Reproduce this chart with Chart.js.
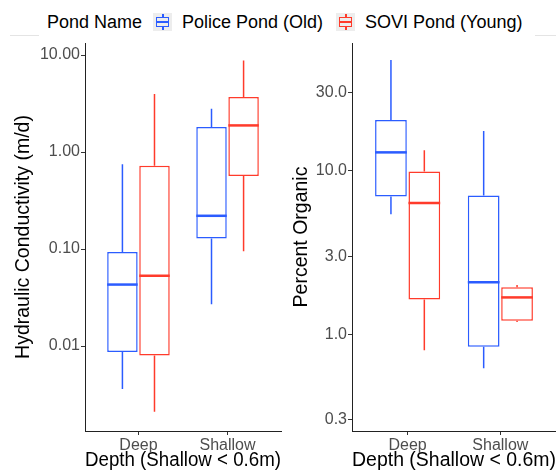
<!DOCTYPE html>
<html>
<head>
<meta charset="utf-8">
<script src="https://cdn.jsdelivr.net/npm/chart.js@4.4.1/dist/chart.umd.min.js"></script>
<style>
    body { margin: 0; background: #fff; }
    #wrap { position: relative; width: 556px; height: 472px; overflow: hidden; font-family: 'Liberation Sans', Arial, sans-serif; }
    canvas { position: absolute; top: 0; }
    .rule { position: absolute; top: 35px; height: 1px; background: #e4e4e4; }
    .lbl { position: absolute; top: 13px; font-size: 18px; line-height: 18px; color: #000; white-space: nowrap; }
    .key { position: absolute; top: 13px; width: 19px; height: 18px; background: #ededed; }
    .key .wh { position: absolute; left: 9px; top: 1px; width: 1.5px; height: 16px; }
    .key .bx { position: absolute; left: 3px; top: 4px; width: 13px; height: 10px; box-sizing: border-box; border: 1.5px solid; background: #ededed; }
    .key .md { position: absolute; left: 3px; top: 8px; width: 13px; height: 2px; }
</style>
</head>
<body>
<div id="wrap">
    <div class="rule" style="left:10px;width:29px"></div>
    <div class="rule" style="left:535px;width:21px"></div>
    <div class="lbl" style="left:47px">Pond Name</div>
    <div class="key" style="left:153px">
        <div class="wh" style="background:#2b5cff"></div>
        <div class="bx" style="border-color:#2b5cff"></div>
        <div class="md" style="background:#2b5cff"></div>
    </div>
    <div class="lbl" style="left:182px">Police Pond (Old)</div>
    <div class="key" style="left:336px">
        <div class="wh" style="background:#ff3b2b"></div>
        <div class="bx" style="border-color:#ff3b2b"></div>
        <div class="md" style="background:#ff3b2b"></div>
    </div>
    <div class="lbl" style="left:365px">SOVI Pond (Young)</div>
    <canvas id="hkChart" width="290" height="472" style="left:0"></canvas>
    <canvas id="orgChart" width="274" height="472" style="left:282px"></canvas>
</div>
<script>
// categories / positions on the x axis
const depths = ['Deep', 'Shallow'];
const depthPos = [1, 2];
const ponds = ['Police Pond (Old)', 'SOVI Pond (Young)'];
const pondColors = ['#2b5cff', '#ff3b2b'];

// hydraulic conductivity (m/d) : min, q1, median, q3, max
const hkPoliceMin = [0.0036, 0.027];
const hkPoliceQ1 = [0.0087, 0.128];
const hkPoliceMed = [0.043, 0.22];
const hkPoliceQ3 = [0.093, 1.81];
const hkPoliceMax = [0.75, 2.8];
const hkSoviMin = [0.0021, 0.095];
const hkSoviQ1 = [0.008, 0.566];
const hkSoviMed = [0.053, 1.88];
const hkSoviQ3 = [0.72, 3.69];
const hkSoviMax = [3.96, 8.8];

// percent organic
const orgPoliceMin = [5.4, 0.62];
const orgPoliceQ1 = [6.93, 0.84];
const orgPoliceMed = [12.9, 2.08];
const orgPoliceQ3 = [20.3, 7.03];
const orgPoliceMax = [47.3, 17.4];
const orgSoviMin = [0.80, 1.19];
const orgSoviQ1 = [1.63, 1.21];
const orgSoviMed = [6.34, 1.68];
const orgSoviQ3 = [9.86, 1.94];
const orgSoviMax = [13.3, 2.0];

// tick labels
const hkTicks = [0.01, 0.1, 1, 10];
const hkTickLabels = ['0.01', '0.10', '1.00', '10.00'];
const orgTicks = [0.3, 1, 3, 10, 30];
const orgTickLabels = ['0.3', '1.0', '3.0', '10.0', '30.0'];

Chart.defaults.font.family = "'Liberation Sans', Arial, sans-serif";

// whiskers and medians drawn on top of the floating bars
const boxExtras = {
    id: 'boxExtras',
    afterDatasetsDraw(chart) {
        const ctx = chart.ctx;
        const y = chart.scales.y;
        chart.data.datasets.forEach((ds, d) => {
            const meta = chart.getDatasetMeta(d);
            meta.data.forEach((bar, i) => {
                const half = bar.width / 2;
                ctx.save();
                ctx.strokeStyle = ds.borderColor;
                ctx.lineWidth = 1.5;
                ctx.beginPath();
                ctx.moveTo(bar.x, y.getPixelForValue(ds.q3[i]));
                ctx.lineTo(bar.x, y.getPixelForValue(ds.hi[i]));
                ctx.moveTo(bar.x, y.getPixelForValue(ds.q1[i]));
                ctx.lineTo(bar.x, y.getPixelForValue(ds.lo[i]));
                ctx.stroke();
                ctx.lineWidth = 2.5;
                ctx.beginPath();
                const ym = y.getPixelForValue(ds.med[i]);
                ctx.moveTo(bar.x - half, ym);
                ctx.lineTo(bar.x + half, ym);
                ctx.stroke();
                ctx.restore();
            });
        });
    }
};

function makeSet(label, color, lo, q1, med, q3, hi) {
    return {
        label: label,
        data: depthPos.map((x, i) => ({x: x, y: [q1[i], q3[i]]})),
        backgroundColor: '#ffffff',
        borderColor: color,
        borderWidth: 1.5,
        borderSkipped: false,
        categoryPercentage: 0.72,
        barPercentage: 0.95,
        lo: lo, q1: q1, med: med, q3: q3, hi: hi
    };
}

function makeBoxChart(id, sets, yMin, yMax, ticks, tickLabels, yTitle, yWidth, yTitlePad, padRight) {
    const ctx = document.getElementById(id).getContext('2d');
    return new Chart(ctx, {
        type: 'bar',
        data: { datasets: sets },
        options: {
            responsive: false,
            animation: false,
            devicePixelRatio: 1,
            layout: { padding: { top: 43, right: padRight, bottom: 0, left: 0 } },
            plugins: { legend: { display: false }, tooltip: { enabled: false } },
            scales: {
                x: {
                    type: 'linear',
                    min: 0.4,
                    max: 2.6,
                    offset: false,
                    afterBuildTicks: (s) => { s.ticks = depthPos.map(v => ({value: v})); },
                    afterFit: (s) => { s.height = 41; },
                    grid: { offset: false, drawOnChartArea: false, drawTicks: true, tickLength: 4, color: '#333333' },
                    border: { display: true, color: '#222222', width: 1 },
                    ticks: {
                        color: '#4d4d4d',
                        font: { size: 16 },
                        padding: 1,
                        maxRotation: 0,
                        callback: (v) => depths[depthPos.indexOf(v)]
                    },
                    title: {
                        display: true,
                        text: 'Depth (Shallow < 0.6m)',
                        color: '#000',
                        font: { size: 19.5 },
                        padding: { top: 0, bottom: 0 }
                    }
                },
                y: {
                    type: 'logarithmic',
                    min: yMin,
                    max: yMax,
                    afterBuildTicks: (s) => { s.ticks = ticks.map(v => ({value: v})); },
                    afterFit: (s) => { s.width = yWidth; },
                    grid: { drawOnChartArea: false, drawTicks: true, tickLength: 4, color: '#333333' },
                    border: { display: true, color: '#222222', width: 1 },
                    ticks: {
                        color: '#4d4d4d',
                        font: { size: 16 },
                        padding: 1,
                        callback: (v) => tickLabels[ticks.indexOf(v)]
                    },
                    title: {
                        display: true,
                        text: yTitle,
                        color: '#000',
                        font: { size: 19.5 },
                        padding: { top: yTitlePad, bottom: 0 }
                    }
                }
            }
        },
        plugins: [boxExtras]
    });
}

makeBoxChart('hkChart', [
    makeSet(ponds[0], pondColors[0], hkPoliceMin, hkPoliceQ1, hkPoliceMed, hkPoliceQ3, hkPoliceMax),
    makeSet(ponds[1], pondColors[1], hkSoviMin, hkSoviQ1, hkSoviMed, hkSoviQ3, hkSoviMax)
], 0.00133, 13.3, hkTicks, hkTickLabels, 'Hydraulic Conductivity (m/d)', 85, 12, 9);

makeBoxChart('orgChart', [
    makeSet(ponds[0], pondColors[0], orgPoliceMin, orgPoliceQ1, orgPoliceMed, orgPoliceQ3, orgPoliceMax),
    makeSet(ponds[1], pondColors[1], orgSoviMin, orgSoviQ1, orgSoviMed, orgSoviQ3, orgSoviMax)
], 0.257, 60, orgTicks, orgTickLabels, 'Percent Organic', 70, 8, 0);
</script>
</body>
</html>
